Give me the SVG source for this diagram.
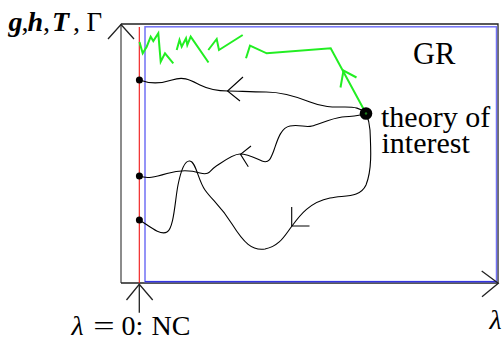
<svg xmlns="http://www.w3.org/2000/svg" width="502" height="339" viewBox="0 0 502 339">
<style>
.ser{font-family:"Liberation Serif","Times New Roman",serif;fill:#000}
.ax{fill:none;stroke:#222;stroke-width:1.3}
.cur{fill:none;stroke:#000;stroke-width:1.1;stroke-linecap:round}
.grn{fill:none;stroke:#22ee22;stroke-width:2;stroke-linejoin:miter}
.head{fill:none;stroke:#000;stroke-width:1.1}
.dot{fill:#000}
</style>
<rect width="502" height="339" fill="#fff"/>
<g id="frame">
<line x1="121" y1="24" x2="121" y2="283" stroke="#666" stroke-width="1.5"/>
<polyline class="ax" points="121,24 498,24 498,283 121,283"/>
<rect x="145" y="26.8" width="351.5" height="254.8" fill="none" stroke="#7272f5" stroke-width="1.5"/>
<line x1="145" y1="281.6" x2="496.5" y2="281.6" stroke="#3434e0" stroke-width="1.2"/>
<line x1="139.3" y1="27" x2="139.3" y2="283" stroke="#f01414" stroke-width="1.1"/>
<polyline class="ax" points="108,39 121,24.5 134,39"/>
<polyline class="ax" stroke-width="1.6" points="481.7,271 498.3,283.2 482,296.7"/>
<line x1="139.3" y1="284" x2="139.3" y2="312.7" class="ax"/>
<polyline class="ax" points="126.5,300 139.3,284.3 152.7,300"/>
</g>
<g id="connectors">
<path class="cur" d="M139.5,80 C150,84 160,84 172,80 S190,80 200,85 S218,91 228,91 S250,92 266,92 S295,96 310,102 S335,107 345,107 S360,108 366,113"/>
<polyline class="head" points="243,77 227.5,91 240,101"/>
<path class="cur" d="M139.5,176 C147,179 155,177 167,173.5 S190,170 200,173 S210,170 215,167 S232,154 240,154 S255,158 262,161 S271,158 274,150 S280,128 290,126 S305,128 312,126 S333,118 342,117 S358,117 366,113"/>
<polyline class="head" points="251,146 240.5,154.3 248.3,166.7"/>
<path class="cur" d="M139.5,220 C148,225 160,236 167,232 C174,228 175,200 178,185 C181,170 185,160 190,161 C196,162 198,180 205,190 C212,200 220,205 232,224 C244,243 252,251 265,249 C280,246 285,235 292,226 C300,215 310,202 330,198 C345,195 360,198 366,185 C372,170 371,150 370,130 C369.5,122 368,118 366,113"/>
<polyline class="head" points="291.7,207 291.7,226 309.5,226"/>
<polyline class="grn" points="139.5,42 142.7,53.3 146.7,46.7 150.7,36.7 153.3,41 158.3,33.3 160.7,61.7 165,53.3 173.3,63.3"/>
<polyline class="grn" points="176.7,50 179.5,40 181.7,46.7 186,38.3 187.3,45 190.7,36.7 208.5,62.5"/>
<polyline class="grn" points="208.3,50 216.7,39 219,50 242.7,35"/>
<polyline class="grn" points="246,58.3 250,45.7 266.7,53.3 330.7,48.3 366,113.5"/>
<polyline class="grn" points="340.5,87.5 343.5,70.5 356.5,77.5"/>
</g>
<g id="nc-dot-1"><circle class="dot" cx="139.4" cy="80" r="3.5"/></g>
<g id="nc-dot-2"><circle class="dot" cx="139.4" cy="176" r="3.5"/></g>
<g id="nc-dot-3"><circle class="dot" cx="139.4" cy="220" r="3.5"/></g>
<g id="theory">
<circle class="dot" cx="366" cy="113.5" r="6.3"/>
<circle cx="366" cy="113.5" r="1.2" fill="#1a7a1a"/>
<text class="ser" x="381" y="126.5" font-size="30">theory of</text>
<text class="ser" x="381.5" y="153" font-size="30">interest</text>
</g>
<g id="gr"><text class="ser" x="413" y="64" font-size="30.5">GR</text></g>
<g id="y-label">
<text class="ser" x="8.5" y="30.7" font-size="28" font-weight="bold" font-style="italic">g</text>
<text class="ser" x="21.5" y="30.7" font-size="28">,</text>
<text class="ser" x="27.5" y="30.7" font-size="28" font-weight="bold" font-style="italic">h</text>
<text class="ser" x="43" y="30.7" font-size="28">,</text>
<text class="ser" x="52" y="30.7" font-size="28" font-weight="bold" font-style="italic">T</text>
<text class="ser" x="73" y="30.7" font-size="28">,</text>
<text class="ser" x="86.5" y="30.7" font-size="27">Γ</text>
</g>
<g id="x-label">
<text class="ser" x="71.5" y="335" font-size="28" font-style="italic">λ</text>
<text class="ser" x="104" y="335" font-size="28" text-anchor="middle" transform="translate(104,0) scale(1.35,1) translate(-104,0)">=</text>
<text class="ser" x="121.5" y="335" font-size="28">0:</text>
<text class="ser" x="151.5" y="335" font-size="28">NC</text>
<text class="ser" x="489.5" y="329" font-size="28" font-style="italic">λ</text>
</g>
</svg>
